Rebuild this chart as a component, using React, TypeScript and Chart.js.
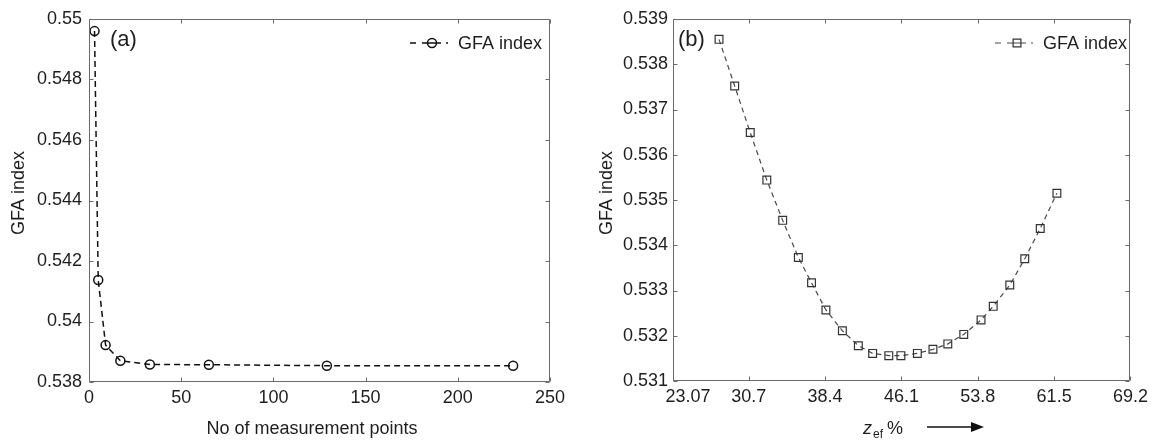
import React, { useEffect, useRef } from 'react';
import { Chart, registerables } from 'chart.js';

Chart.register(...registerables);

// ---------- data ----------
const measurementPoints = [3, 5, 9, 17, 33, 65, 129, 230];
const gfaIndexA = [0.5496, 0.54137, 0.53922, 0.5387, 0.53858, 0.53857, 0.53854, 0.53854];
const xTicksA = [0, 50, 100, 150, 200, 250];
const yTicksA = [0.538, 0.54, 0.542, 0.544, 0.546, 0.548, 0.55];

const zef = [27.71, 29.29, 30.86, 32.53, 34.13, 35.71, 37.04, 38.49, 40.15, 41.76, 43.2, 44.83, 46.05, 47.71, 49.28, 50.78, 52.39, 54.13, 55.36, 57.03, 58.54, 60.1, 61.78];
const gfaIndexB = [0.53855, 0.53752, 0.53649, 0.53544, 0.53455, 0.53373, 0.53317, 0.53257, 0.53211, 0.53178, 0.53161, 0.53156, 0.53156, 0.53161, 0.5317, 0.53182, 0.53203, 0.53235, 0.53265, 0.53312, 0.5337, 0.53437, 0.53515];
const xTicksB = [23.07, 30.7, 38.4, 46.1, 53.8, 61.5, 69.2];
const yTicksB = [0.531, 0.532, 0.533, 0.534, 0.535, 0.536, 0.537, 0.538, 0.539];

const seriesLabel = 'GFA index';
const yTitle = 'GFA index';
const xTitleA = 'No of measurement points';

// ---------- style ----------
const FONT = '"Liberation Sans", Arial, Helvetica, sans-serif';
const TEXT = '#1e1e1e';
const AXIS = '#6a6a6a';

const fmt = (v: number) => String(Number(v.toFixed(4)));

const framePlugin = {
  id: 'frame',
  afterDraw(chart: any) {
    const { ctx, chartArea } = chart;
    const { left, right, top, bottom } = chartArea;
    const x = chart.scales.x;
    const y = chart.scales.y;
    const L = Math.round(left) + 0.5;
    const R = Math.round(right) - 0.5;
    const T = Math.round(top) + 0.5;
    const B = Math.round(bottom) - 0.5;
    const tl = 4;
    ctx.save();
    ctx.strokeStyle = AXIS;
    ctx.lineWidth = 1;
    ctx.setLineDash([]);
    ctx.beginPath();
    ctx.rect(L, T, R - L, B - T);
    x.ticks.forEach((t: any) => {
      const px = Math.round(x.getPixelForValue(t.value)) + 0.5;
      ctx.moveTo(px, B);
      ctx.lineTo(px, B - tl);
      ctx.moveTo(px, T);
      ctx.lineTo(px, T + tl);
    });
    y.ticks.forEach((t: any) => {
      const py = Math.round(y.getPixelForValue(t.value)) + 0.5;
      ctx.moveTo(L, py);
      ctx.lineTo(L + tl, py);
      ctx.moveTo(R, py);
      ctx.lineTo(R - tl, py);
    });
    ctx.stroke();
    ctx.restore();
  },
};

function drawMarker(ctx: CanvasRenderingContext2D, kind: string, x: number, y: number, color: string, lw: number) {
  ctx.save();
  ctx.setLineDash([]);
  ctx.strokeStyle = color;
  ctx.lineWidth = lw;
  ctx.beginPath();
  if (kind === 'circle') ctx.arc(x, y, 4.5, 0, Math.PI * 2);
  else ctx.rect(x - 3.9, y - 3.9, 7.8, 7.8);
  ctx.stroke();
  ctx.restore();
}

function makeAnnotPlugin(cfg: any) {
  return {
    id: 'annot' + cfg.id,
    afterDraw(chart: any) {
      const ctx: CanvasRenderingContext2D = chart.ctx;
      ctx.save();
      ctx.fillStyle = TEXT;
      // panel label
      ctx.font = `22px ${FONT}`;
      ctx.textAlign = 'left';
      ctx.textBaseline = 'middle';
      ctx.fillText(cfg.panel, cfg.panelX, 40);
      // y title
      ctx.save();
      ctx.font = `18px ${FONT}`;
      ctx.translate(cfg.yTitleX, 193);
      ctx.rotate(-Math.PI / 2);
      ctx.textAlign = 'center';
      ctx.textBaseline = 'middle';
      ctx.fillText(yTitle, 0, 0);
      ctx.restore();
      // legend
      const ly = 43;
      ctx.save();
      ctx.strokeStyle = cfg.lineColor;
      ctx.lineWidth = cfg.lineWidth;
      ctx.beginPath();
      ctx.moveTo(cfg.legX0, ly); ctx.lineTo(cfg.legX0 + 6, ly);
      ctx.moveTo(cfg.legX0 + 12, ly); ctx.lineTo(cfg.legX0 + 31, ly);
      ctx.moveTo(cfg.legX0 + 36, ly); ctx.lineTo(cfg.legX0 + 38, ly);
      ctx.stroke();
      ctx.restore();
      drawMarker(ctx, cfg.marker, cfg.legX0 + 22, ly, cfg.markerColor, cfg.lineWidth);
      ctx.font = `18px ${FONT}`;
      ctx.textAlign = 'left';
      ctx.textBaseline = 'middle';
      ctx.fillStyle = TEXT;
      ctx.fillText(seriesLabel, cfg.legX0 + 48, ly + 1);
      // x title
      cfg.drawXTitle(ctx);
      ctx.restore();
    },
  };
}

function tickFont() {
  return { family: FONT, size: 18 };
}

export default function App() {
  const refA = useRef<HTMLCanvasElement>(null);
  const refB = useRef<HTMLCanvasElement>(null);

  useEffect(() => {
    const annotA = makeAnnotPlugin({
      id: 'A',
      panel: '(a)',
      panelX: 110,
      yTitleX: 19,
      legX0: 410,
      lineColor: '#111',
      markerColor: '#111',
      lineWidth: 1.5,
      marker: 'circle',
      drawXTitle: (ctx: CanvasRenderingContext2D) => {
        ctx.font = `18px ${FONT}`;
        ctx.textAlign = 'center';
        ctx.textBaseline = 'alphabetic';
        ctx.fillStyle = TEXT;
        ctx.fillText(xTitleA, 312, 434);
      },
    });

    const annotB = makeAnnotPlugin({
      id: 'B',
      panel: '(b)',
      panelX: 102,
      yTitleX: 31,
      legX0: 419,
      lineColor: '#4a4a4a',
      markerColor: '#333',
      lineWidth: 1.2,
      marker: 'rect',
      drawXTitle: (ctx: CanvasRenderingContext2D) => {
        ctx.fillStyle = TEXT;
        ctx.textAlign = 'left';
        ctx.textBaseline = 'alphabetic';
        ctx.font = `italic 18px ${FONT}`;
        ctx.fillText('z', 287, 434);
        ctx.font = `12px ${FONT}`;
        ctx.fillText('ef', 297, 438);
        ctx.font = `18px ${FONT}`;
        ctx.fillText('%', 311, 434);
        // arrow
        ctx.strokeStyle = '#111';
        ctx.lineWidth = 1.4;
        ctx.beginPath();
        ctx.moveTo(351, 427);
        ctx.lineTo(397, 427);
        ctx.stroke();
        ctx.beginPath();
        ctx.moveTo(395, 422);
        ctx.lineTo(408, 427);
        ctx.lineTo(395, 432);
        ctx.closePath();
        ctx.fillStyle = '#111';
        ctx.fill();
      },
    });

    const chartA = new Chart(refA.current!, {
      type: 'line',
      data: {
        datasets: [
          {
            label: seriesLabel,
            data: measurementPoints.map((x, i) => ({ x, y: gfaIndexA[i] })),
            borderColor: '#111',
            borderWidth: 1.5,
            borderDash: [6, 4],
            pointStyle: 'circle',
            pointRadius: 4.5,
            pointBorderColor: '#111',
            pointBackgroundColor: 'rgba(0,0,0,0)',
            pointBorderWidth: 1.5,
            tension: 0,
          },
        ],
      },
      options: {
        responsive: false,
        animation: false,
        layout: { padding: { left: 0, right: 26, top: 19, bottom: 0 } },
        plugins: { legend: { display: false }, tooltip: { enabled: false } },
        scales: {
          x: {
            type: 'linear',
            min: 0,
            max: 250,
            afterBuildTicks: (s: any) => { s.ticks = xTicksA.map((v) => ({ value: v })); },
            afterFit: (s: any) => { s.height = 58; },
            grid: { display: false, drawTicks: false },
            border: { display: false },
            ticks: { font: tickFont(), color: TEXT, padding: 5, maxRotation: 0, autoSkip: false, callback: (v: any) => fmt(Number(v)) },
          },
          y: {
            type: 'linear',
            min: 0.538,
            max: 0.55,
            afterBuildTicks: (s: any) => { s.ticks = yTicksA.map((v) => ({ value: v })); },
            afterFit: (s: any) => { s.width = 89; },
            grid: { display: false, drawTicks: false },
            border: { display: false },
            ticks: { font: tickFont(), color: TEXT, padding: 7, autoSkip: false, callback: (v: any) => fmt(Number(v)) },
          },
        },
      },
      plugins: [framePlugin, annotA],
    } as any);

    const chartB = new Chart(refB.current!, {
      type: 'line',
      data: {
        datasets: [
          {
            label: seriesLabel,
            data: zef.map((x, i) => ({ x, y: gfaIndexB[i] })),
            borderColor: '#4a4a4a',
            borderWidth: 1.2,
            borderDash: [5, 4],
            pointStyle: 'rect',
            pointRadius: 5.5,
            pointBorderColor: '#333',
            pointBackgroundColor: 'rgba(0,0,0,0)',
            pointBorderWidth: 1.2,
            tension: 0,
          },
        ],
      },
      options: {
        responsive: false,
        animation: false,
        layout: { padding: { left: 0, right: 20, top: 19, bottom: 0 } },
        plugins: { legend: { display: false }, tooltip: { enabled: false } },
        scales: {
          x: {
            type: 'linear',
            min: 23.07,
            max: 69.2,
            afterBuildTicks: (s: any) => { s.ticks = xTicksB.map((v) => ({ value: v })); },
            afterFit: (s: any) => { s.height = 59; },
            grid: { display: false, drawTicks: false },
            border: { display: false },
            ticks: {
              font: tickFont(), color: TEXT, padding: 5, maxRotation: 0, autoSkip: false,
              callback: (v: any, i: number) => (i === 0 ? '      ' : '') + fmt(Number(v)),
            },
          },
          y: {
            type: 'linear',
            min: 0.531,
            max: 0.539,
            afterBuildTicks: (s: any) => { s.ticks = yTicksB.map((v) => ({ value: v })); },
            afterFit: (s: any) => { s.width = 97; },
            grid: { display: false, drawTicks: false },
            border: { display: false },
            ticks: { font: tickFont(), color: TEXT, padding: 5, autoSkip: false, callback: (v: any) => fmt(Number(v)) },
          },
        },
      },
      plugins: [framePlugin, annotB],
    } as any);

    return () => {
      chartA.destroy();
      chartB.destroy();
    };
  }, []);

  return (
    <div style={{ position: 'fixed', left: 0, top: 0, width: 1153, height: 440, background: '#fff' }}>
      <canvas ref={refA} width={576} height={440} style={{ position: 'absolute', left: 0, top: 0, width: 576, height: 440 }} />
      <canvas ref={refB} width={577} height={440} style={{ position: 'absolute', left: 576, top: 0, width: 577, height: 440 }} />
    </div>
  );
}
